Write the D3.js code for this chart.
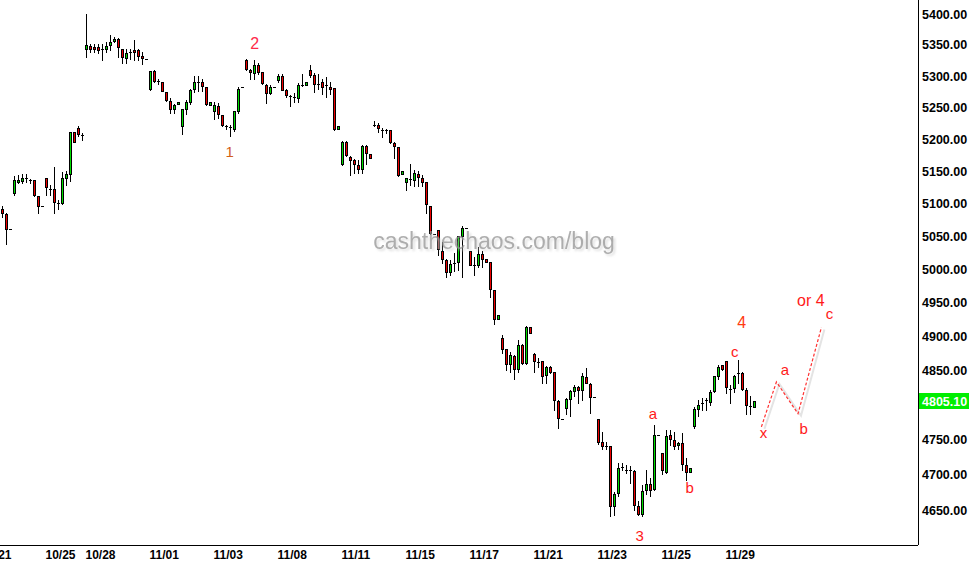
<!DOCTYPE html>
<html><head><meta charset="utf-8">
<script src="https://cdn.jsdelivr.net/npm/d3@7"></script>
<style>
html,body{margin:0;padding:0;background:#fff;}
svg{display:block;}
</style></head>
<body>
<svg id="chart" width="969" height="576"></svg>
<script>
// ---- data (bar number 1..189) ----
const opens  = [5092,5084,5061,5116,5134,5135,5139,5137,5136,5111,5097,5139,5123,5123,5101,5101,5139,5145,5211,5217,5206,
5343,5348,5346,5346,5343,5343,5350,5357,5359,5343,5329,5339,5342,5342,5332,5327,
5280,5308,5292,5291,5274,5261,5248,5256,5220,5247,5258,5279,5291,5291,5283,5254,
5244,5253,5238,5220,5219,5216,5244,5282,5326,5309,5305,5318,5307,5286,5273,5283,
5293,5300,5278,5268,5266,5265,5286,5285,5309,5301,5288,5290,5285,5283,5281,5216,
5162,5196,5172,5167,5160,5153,5189,5177,5222,5222,5215,5214,5214,5194,5188,5145,
5134,5138,5137,5146,5139,5134,5097,5054,5059,5028,5014,4996,5010,5011,5050,5063,
5027,5007,5006,5023,5015,5011,4969,4925,4898,4881,4859,4871,4852,4887,4861,4914,
4874,4862,4863,4843,4855,4848,4805,4779,4795,4808,4820,4826,4822,4840,4830,4811,
4779,4747,4740,4740,4655,4674,4710,4706,4706,4705,4656,4645,4678,4687,4679,4757,
4730,4704,4756,4749,4742,4745,4714,4704,4769,4794,4803,4807,4804,4820,4842,4858,
4864,4823,4824,4846,4846,4822,4798,4797];
const highs  = [5097,5085,5061,5142,5144,5146,5145,5138,5137,5111,5097,5139,5128,5156,5106,5149,5150,5212,5212,5220,5209,
5400,5351,5351,5351,5351,5355,5366,5362,5361,5343,5343,5343,5358,5343,5339,5327,
5308,5310,5296,5291,5275,5265,5256,5259,5247,5262,5279,5300,5300,5295,5283,5259,
5258,5257,5238,5223,5223,5245,5283,5282,5327,5311,5326,5321,5307,5288,5285,5283,
5303,5303,5279,5269,5273,5289,5303,5290,5317,5304,5303,5296,5298,5291,5281,5221,
5197,5197,5173,5169,5167,5191,5191,5177,5229,5226,5218,5216,5214,5196,5188,5150,
5140,5161,5152,5150,5144,5134,5097,5054,5059,5041,5015,5014,5025,5050,5066,5063,
5027,5018,5034,5028,5015,5011,4969,4931,4902,4882,4877,4872,4895,4889,4915,4914,
4875,4868,4863,4856,4856,4848,4807,4779,4809,4822,4829,4827,4846,4853,4831,4811,
4779,4760,4747,4740,4676,4716,4717,4714,4712,4706,4662,4685,4706,4695,4771,4757,
4730,4763,4763,4761,4747,4759,4723,4709,4797,4807,4809,4809,4821,4841,4858,4858,
4864,4829,4843,4865,4847,4824,4813,4806];
const lows   = [5079,5039,5061,5113,5131,5131,5134,5131,5111,5086,5097,5114,5113,5086,5091,5100,5129,5135,5195,5205,5199,
5330,5338,5339,5337,5326,5338,5341,5355,5331,5321,5321,5327,5326,5326,5320,5327,
5277,5290,5288,5276,5261,5241,5242,5256,5208,5240,5256,5275,5276,5276,5254,5254,
5231,5233,5220,5216,5205,5213,5242,5282,5309,5295,5295,5303,5287,5257,5272,5283,
5291,5277,5267,5253,5259,5259,5284,5285,5299,5275,5280,5272,5267,5271,5214,5216,
5160,5173,5144,5148,5148,5148,5162,5170,5221,5211,5204,5209,5194,5170,5142,5145,
5121,5129,5127,5127,5127,5086,5054,5054,5022,5010,4988,4992,4997,4999,4988,5063,
5006,4992,5004,5003,5011,4959,4918,4925,4876,4851,4848,4838,4847,4859,4859,4905,
4848,4855,4832,4831,4846,4792,4766,4779,4786,4783,4812,4802,4807,4831,4788,4811,
4744,4737,4736,4641,4643,4670,4706,4702,4688,4650,4643,4641,4673,4669,4678,4757,
4701,4702,4742,4737,4737,4706,4692,4704,4767,4783,4792,4793,4800,4819,4838,4851,
4817,4803,4819,4831,4821,4787,4787,4797];
const closes = [5085,5061,5061,5136,5137,5140,5139,5137,5113,5097,5097,5126,5123,5103,5101,5139,5145,5211,5195,5208,5206,
5350,5343,5344,5342,5343,5348,5355,5360,5347,5330,5337,5339,5339,5332,5329,5327,
5308,5292,5292,5276,5262,5248,5254,5259,5247,5258,5277,5290,5291,5284,5255,5259,
5254,5240,5223,5220,5219,5245,5280,5282,5312,5306,5318,5307,5289,5273,5283,5283,
5300,5278,5269,5268,5266,5286,5286,5290,5301,5288,5288,5283,5285,5280,5216,5221,
5196,5175,5168,5161,5153,5189,5178,5170,5222,5218,5215,5214,5195,5189,5144,5150,
5140,5138,5147,5141,5134,5099,5055,5054,5031,5015,4996,5008,5010,5050,5062,5063,
5007,5007,5023,5016,5011,4970,4925,4931,4882,4859,4872,4852,4887,4861,4914,4905,
4863,4862,4842,4855,4848,4807,4781,4779,4808,4820,4825,4821,4841,4832,4811,4811,
4746,4740,4740,4655,4673,4709,4710,4706,4706,4657,4645,4677,4687,4678,4756,4757,
4706,4755,4750,4740,4745,4715,4703,4709,4794,4800,4803,4807,4819,4841,4855,4852,
4825,4823,4841,4846,4823,4800,4798,4805.1];

const priceTicks = [5400,5350,5300,5250,5200,5150,5100,5050,5000,4950,4900,4850,4750,4700,4650];
const lastPrice = 4805.10;
const dateTicks  = [-4,12,22,38,54,70,86,102,118,134,150,166,182];
const dateLabels = ["10/21","10/25","10/28","11/01","11/03","11/08","11/11","11/15","11/17","11/21","11/23","11/25","11/29"];

// wave labels: [bar position, price, text, color, size]
const waveLabels = [
  [57.9, 5180, "1", "#d2601a", 15],
  [64.2, 5352, "2", "#ff2a4a", 16],
  [160.4, 4614, "3", "#ff1a1a", 15],
  [185.9, 4921, "4", "#ff3a10", 16],
  [163.7, 4787, "a", "#ff1a1a", 15],
  [172.9, 4681, "b", "#ff1a1a", 15],
  [184.2, 4877, "c", "#ff1a1a", 15],
  [191.4, 4759, "x", "#ff1a1a", 15],
  [196.7, 4851, "a", "#ff1a1a", 15],
  [201.4, 4766, "b", "#ff1a1a", 15],
  [207.9, 4934, "c", "#ff1a1a", 15],
  [203.2, 4954, "or 4", "#ff1a1a", 16]
];
// projected path: [bar position, price]
const projection = [[190.85, 4768],[194.6, 4833],[200.0, 4787],[205.85, 4913]];

// ---- drawing ----
const svg = d3.select("#chart");
const W = 969, H = 576;
const plotRight = 918, plotBottom = 545;
const FONT = "Arial, 'Liberation Sans', sans-serif";

svg.append("rect").attr("width", W).attr("height", H).attr("fill", "#fff");

const defs = svg.append("defs");
const f = defs.append("filter").attr("id", "wmshadow").attr("x", "-5%").attr("y", "-30%").attr("width", "110%").attr("height", "160%");
f.append("feDropShadow").attr("dx", 2).attr("dy", 2).attr("stdDeviation", 0.8)
  .attr("flood-color", "#c8c8c8").attr("flood-opacity", 0.8);

const x = d3.scaleLinear().domain([1, 189]).range([2, 754]);
const y = d3.scaleLog().domain([4650, 5400]).range([510, 14]);

const bars = opens.map((o, i) => ({n: i + 1, o, h: highs[i], l: lows[i], c: closes[i]}));

const g = svg.append("g").attr("shape-rendering", "crispEdges");
// wicks
g.selectAll("line.wick").data(bars).join("line")
  .attr("class", "wick")
  .attr("x1", d => Math.round(x(d.n)) + 0.5).attr("x2", d => Math.round(x(d.n)) + 0.5)
  .attr("y1", d => Math.round(y(d.h))).attr("y2", d => Math.round(y(d.l)) + 1)
  .attr("stroke", "#000").attr("stroke-width", 1);
// bodies
g.selectAll("rect.body").data(bars.filter(d => d.c !== d.o)).join("rect")
  .attr("class", "body")
  .attr("x", d => Math.round(x(d.n)) - 0.5)
  .attr("width", 2)
  .attr("y", d => Math.round(y(Math.max(d.o, d.c))) + 0.5)
  .attr("height", d => Math.max(1, Math.round(y(Math.min(d.o, d.c))) - Math.round(y(Math.max(d.o, d.c)))))
  .attr("fill", d => d.c > d.o ? "#00dd00" : "#ee0000")
  .attr("stroke", "#000").attr("stroke-width", 1);
// dojis
g.selectAll("line.doji").data(bars.filter(d => d.c === d.o)).join("line")
  .attr("class", "doji")
  .attr("x1", d => Math.round(x(d.n)) - 1).attr("x2", d => Math.round(x(d.n)) + 2)
  .attr("y1", d => Math.round(y(d.o)) + 0.5).attr("y2", d => Math.round(y(d.o)) + 0.5)
  .attr("stroke", "#000").attr("stroke-width", 1);

// watermark overlay
svg.append("text").attr("x", 494).attr("y", 249).attr("text-anchor", "middle")
  .attr("font-family", FONT).attr("font-size", 23)
  .attr("fill", "#909090").attr("fill-opacity", 0.72)
  .attr("filter", "url(#wmshadow)").text("cashthechaos.com/blog");

// projection
const line = d3.line().x(d => x(d[0])).y(d => y(d[1]));
svg.append("path").datum(projection).attr("d", line).attr("transform", "translate(3,2)")
  .attr("fill", "none").attr("stroke", "#e4e4e4").attr("stroke-width", 2);
svg.append("path").datum(projection).attr("d", line)
  .attr("fill", "none").attr("stroke", "#ff3030").attr("stroke-width", 1.2).attr("stroke-dasharray", "3,2");

// wave labels
svg.append("g").selectAll("text").data(waveLabels).join("text")
  .attr("x", d => x(d[0])).attr("y", d => y(d[1]))
  .attr("dy", "0.35em").attr("text-anchor", "middle")
  .attr("font-family", FONT)
  .attr("font-size", d => d[4]).attr("fill", d => d[3]).text(d => d[2]);

// axes
svg.append("line").attr("x1", plotRight + 0.5).attr("x2", plotRight + 0.5).attr("y1", 0).attr("y2", plotBottom)
  .attr("stroke", "#000").attr("shape-rendering", "crispEdges");
svg.append("line").attr("x1", 0).attr("x2", plotRight).attr("y1", plotBottom + 0.5).attr("y2", plotBottom + 0.5)
  .attr("stroke", "#000").attr("shape-rendering", "crispEdges");

const yAxis = d3.axisRight(y).tickValues(priceTicks).tickSize(0).tickPadding(4).tickFormat(d3.format(".2f"));
const ya = svg.append("g").attr("transform", `translate(${plotRight},0)`).call(yAxis);
ya.select(".domain").remove();
ya.selectAll("text").attr("font-family", FONT)
  .attr("font-weight", "bold").attr("font-size", 12.5).attr("fill", "#000");

const xAxis = d3.axisBottom(x).tickValues(dateTicks).tickSize(0).tickPadding(5)
  .tickFormat((d, i) => dateLabels[i]);
const xa = svg.append("g").attr("transform", `translate(0,${plotBottom})`).call(xAxis);
xa.select(".domain").remove();
xa.selectAll("text").attr("text-anchor", "start").attr("dx", -1)
  .attr("font-family", FONT)
  .attr("font-weight", "bold").attr("font-size", 12).attr("fill", "#000");

// last price badge
const ly = y(lastPrice);
svg.append("rect").attr("x", plotRight + 1).attr("y", Math.round(ly) - 8).attr("width", W - plotRight - 1).attr("height", 16)
  .attr("fill", "#00ee00");
svg.append("text").attr("x", plotRight + 4).attr("y", ly).attr("dy", "0.35em")
  .attr("font-family", FONT).attr("font-weight", "bold").attr("font-size", 12.5)
  .attr("fill", "#fff").text(d3.format(".2f")(lastPrice));
</script>
</body></html>
